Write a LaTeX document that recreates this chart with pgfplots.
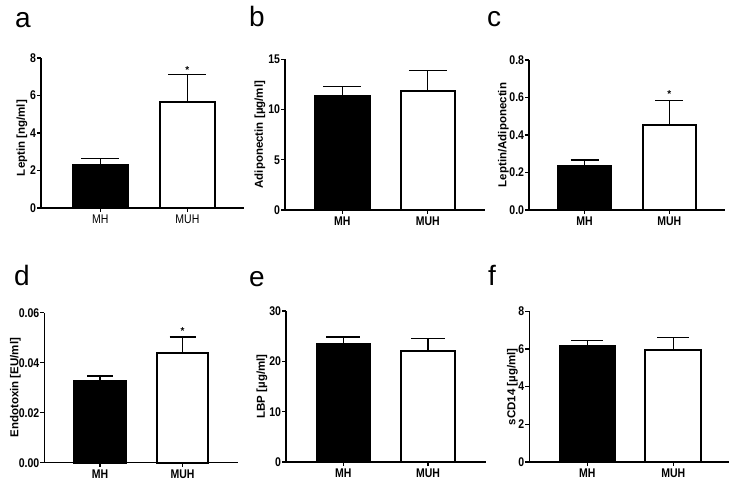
\documentclass[border=0pt]{standalone}
\usepackage{fontspec}
\setmainfont{Liberation Sans}
\usepackage{graphicx}
\usepackage{pgfplots}
\pgfplotsset{compat=1.18}
\newcommand{\st}[1]{\scalebox{1}[1.2]{#1}}
\pgfplotsset{
  panel/.style={
    scale only axis, clip=false,
    axis x line*=bottom, axis y line*=left,
    axis line style={-, line width=1.2pt, black},
    tick align=outside, major tick length=4pt,
    every tick/.style={line width=1.2pt, black},
    xmin=0, ymin=0,
    xticklabels={\st{MH},\st{MUH}},
    yticklabel={\st{\pgfmathprintnumber{\tick}}},
    tick label style={font=\bfseries\fontsize{10.5}{12}\selectfont, black},
    yticklabel style={inner sep=0.8pt},
    xticklabel style={inner sep=2.5pt},
    /pgf/number format/assume math mode=true,
    scaled y ticks=false,
    every axis y label/.style={rotate=90, anchor=center, font=\bfseries\fontsize{11.5}{13}\selectfont},
    ybar, bar shift=0pt,
    error bars/y dir=plus, error bars/y explicit,
    error bars/error bar style={line width=1.2pt, black},
  },
  blackbar/.style={fill=black, draw=black, line width=1.8pt},
  whitebar/.style={fill=white, draw=black, line width=1.8pt},
  capsize/.style={error bars/error mark options={rotate=90, line width=1.2pt, black, mark size=#1}},
}
\begin{document}
\begin{tikzpicture}[x=1pt,y=1pt]
\fill[white] (0,0) rectangle (735,484);
\node[anchor=base west, inner sep=0, font=\fontsize{28}{30}\selectfont] at (15,456.5) {a};
\node[anchor=base west, inner sep=0, font=\fontsize{28}{30}\selectfont] at (249,457) {b};
\node[anchor=base west, inner sep=0, font=\fontsize{28}{30}\selectfont] at (487,457) {c};
\node[anchor=base west, inner sep=0, font=\fontsize{28}{30}\selectfont] at (14,198.7) {d};
\node[anchor=base west, inner sep=0, font=\fontsize{28}{30}\selectfont] at (249,197) {e};
\node[anchor=base west, inner sep=0, font=\fontsize{28}{30}\selectfont] at (488,198.7) {f};

% a
\begin{axis}[panel, at={(41pt,276pt)}, anchor=south west, width=203pt, height=150pt,
  xmax=203, ymax=8, ytick={0,2,4,6,8}, xtick={59.4,146.4},
  xticklabel style={font=\fontsize{10.5}{12}\selectfont},
  ylabel={Leptin [ng/ml]}, ylabel style={at={([xshift=-19pt,yshift=-5pt]axis description cs:0,0.5)}},
  capsize=19pt]
\addplot[blackbar, bar width=55pt] coordinates {(59.4,2.31) +- (0,0.32)};
\addplot[whitebar, bar width=55pt] coordinates {(146.4,5.65) +- (0,1.46)};
\node[anchor=base, inner sep=0, yshift=1pt, font=\bfseries\fontsize{10}{11}\selectfont] at (axis cs:146.4,7.11) {*};
\end{axis}

% b
\begin{axis}[panel, at={(285pt,274pt)}, anchor=south west, width=200pt, height=150.7pt,
  xmax=200, ymax=15, ytick={0,5,10,15}, xtick={57.3,142.8},
  ylabel={Adiponectin [µg/ml]}, ylabel style={at={([xshift=-25pt]axis description cs:0,0.5)}},
  capsize=19pt]
\addplot[blackbar, bar width=54.7pt] coordinates {(57.3,11.37) +- (0,0.9)};
\addplot[whitebar, bar width=53.7pt] coordinates {(142.8,11.87) +- (0,1.99)};
\end{axis}

% c
\begin{axis}[panel, at={(529pt,274pt)}, anchor=south west, width=196pt, height=150pt,
  xmax=196, ymax=0.8, ytick={0,0.2,0.4,0.6,0.8}, xtick={55.5,140.2},
  yticklabel style={/pgf/number format/.cd, fixed, fixed zerofill, precision=1},
  ylabel={Leptin/Adiponectin}, ylabel style={at={([xshift=-25.7pt]axis description cs:0,0.5)}},
  capsize=14pt]
\addplot[blackbar, bar width=53.6pt] coordinates {(55.5,0.233) +- (0,0.034)};
\addplot[whitebar, bar width=53pt] coordinates {(140.2,0.453) +- (0,0.132)};
\node[anchor=base, inner sep=0, yshift=2.5pt, font=\bfseries\fontsize{10}{11}\selectfont] at (axis cs:140.2,0.585) {*};
\end{axis}

% d
\begin{axis}[panel, at={(44.3pt,21.3pt)}, anchor=south west, width=194pt, height=150pt,
  xmax=194, ymax=0.06, ytick={0,0.02,0.04,0.06}, xtick={55.7,138.2},
  yticklabel style={/pgf/number format/.cd, fixed, fixed zerofill, precision=2},
  ylabel={Endotoxin [EU/ml]}, ylabel style={at={([xshift=-29pt]axis description cs:0,0.5)}},
  capsize=13pt]
\addplot[blackbar, bar width=52.6pt] coordinates {(55.7,0.0327) +- (0,0.0020)};
\addplot[whitebar, bar width=51.6pt] coordinates {(138.2,0.0438) +- (0,0.0065)};
\node[anchor=base, inner sep=0, yshift=2.3pt, font=\bfseries\fontsize{10}{11}\selectfont] at (axis cs:138.2,0.0503) {*};
\end{axis}

% e
\begin{axis}[panel, at={(286pt,22pt)}, anchor=south west, width=200pt, height=151pt,
  xmax=200, ymax=30, ytick={0,10,20,30}, xtick={57.3,142},
  ylabel={LBP [µg/ml]}, ylabel style={at={([xshift=-24pt]axis description cs:0,0.5)}},
  capsize=17pt]
\addplot[blackbar, bar width=53.3pt] coordinates {(57.3,23.45) +- (0,1.4)};
\addplot[whitebar, bar width=54pt] coordinates {(142,22.07) +- (0,2.53)};
\end{axis}

% f
\begin{axis}[panel, at={(529.3pt,22pt)}, anchor=south west, width=200pt, height=150.7pt,
  xmax=200, ymax=8, ytick={0,2,4,6,8}, xtick={58,144},
  ylabel={sCD14 [µg/ml]}, ylabel style={at={([xshift=-17pt]axis description cs:0,0.5)}},
  capsize=16pt]
\addplot[blackbar, bar width=54.7pt] coordinates {(58,6.14) +- (0,0.30)};
\addplot[whitebar, bar width=56pt] coordinates {(144,5.96) +- (0,0.64)};
\end{axis}
\end{tikzpicture}
\end{document}
